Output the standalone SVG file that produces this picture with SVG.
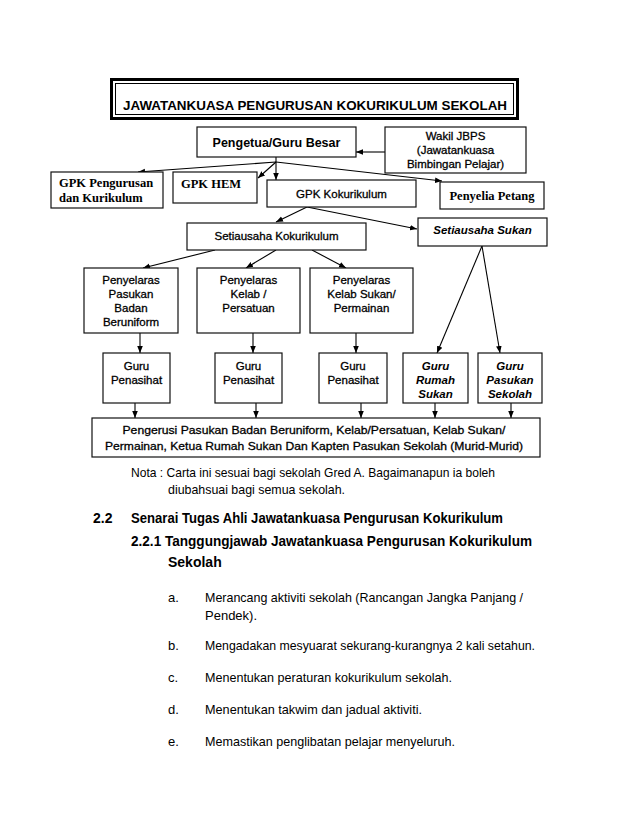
<svg xmlns="http://www.w3.org/2000/svg" width="638" height="826" viewBox="0 0 638 826">
<defs>
<marker id="ah" viewBox="0 0 10 10" refX="10" refY="5" markerWidth="7" markerHeight="7" markerUnits="userSpaceOnUse" orient="auto">
<path d="M0,1 L10,5 L0,9 z" fill="#000"/>
</marker>
<style>
.bx{fill:#fff;stroke:#111;stroke-width:1.2}
.s{font-family:"Liberation Sans",Arial,sans-serif;font-size:11.5px;fill:#000;stroke:#000;stroke-width:0.3;text-anchor:middle}
.sb{font-family:"Liberation Sans",Arial,sans-serif;font-size:12.5px;font-weight:bold;fill:#000;text-anchor:middle}
.si{font-family:"Liberation Sans",Arial,sans-serif;font-size:11.5px;font-weight:bold;font-style:italic;fill:#000;text-anchor:middle}
.sf{font-family:"Liberation Serif","Times New Roman",serif;font-size:12.5px;font-weight:bold;fill:#000}
.ln{fill:none;stroke:#000;stroke-width:1.1;marker-end:url(#ah)}
.lp{fill:none;stroke:#000;stroke-width:1.1}
.t{font-family:"Liberation Sans",Tahoma,sans-serif;font-size:13px;fill:#000}
.tb{font-family:"Liberation Sans",Tahoma,sans-serif;font-size:14px;font-weight:bold;fill:#000}
</style>
</defs>
<rect width="638" height="826" fill="#fff"/>

<g id="title">
<rect x="111.5" y="79.5" width="406" height="39" fill="#fff" stroke="#000" stroke-width="3"/>
<rect x="115.5" y="83.5" width="398" height="31" fill="none" stroke="#000" stroke-width="1"/>
<text x="315" y="110" class="sb" font-size="13" textLength="384" lengthAdjust="spacingAndGlyphs">JAWATANKUASA PENGURUSAN KOKURIKULUM SEKOLAH</text>
</g>

<g id="connectors">
<line class="ln" x1="385" y1="152" x2="356" y2="152"/>
<line class="lp" x1="276" y1="157" x2="276" y2="162"/>
<line class="ln" x1="276" y1="162" x2="138" y2="172"/>
<line class="ln" x1="276" y1="162" x2="258" y2="178"/>
<line class="ln" x1="276" y1="162" x2="276" y2="180"/>
<line class="ln" x1="276" y1="162" x2="442" y2="181"/>
<line class="ln" x1="307" y1="207" x2="276" y2="222"/>
<line class="ln" x1="307" y1="207" x2="417" y2="229"/>
<line class="ln" x1="215" y1="250" x2="143" y2="268"/>
<line class="ln" x1="276" y1="250" x2="246" y2="268"/>
<line class="ln" x1="312" y1="250" x2="346" y2="268"/>
<line class="ln" x1="140" y1="333" x2="140" y2="353"/>
<line class="ln" x1="253" y1="333" x2="253" y2="353"/>
<line class="ln" x1="356" y1="333" x2="356" y2="353"/>
<line class="ln" x1="482" y1="246" x2="437" y2="353"/>
<line class="ln" x1="482" y1="246" x2="500" y2="353"/>
<line class="ln" x1="135" y1="403" x2="135" y2="418"/>
<line class="ln" x1="256" y1="403" x2="256" y2="418"/>
<line class="ln" x1="361" y1="403" x2="361" y2="418"/>
<line class="ln" x1="435" y1="403" x2="435" y2="418"/>
<line class="ln" x1="511" y1="403" x2="511" y2="418"/>
</g>

<g id="pengetua">
<rect class="bx" x="197" y="127" width="159" height="30"/>
<text class="sb" x="276.5" y="147">Pengetua/Guru Besar</text>
</g>

<g id="wakil">
<rect class="bx" x="385" y="127" width="141" height="46"/>
<text class="s" x="455.5" y="140">Wakil JBPS</text>
<text class="s" x="455.5" y="154">(Jawatankuasa</text>
<text class="s" x="455.5" y="168">Bimbingan Pelajar)</text>
</g>

<g id="gpk-pengurusan">
<rect class="bx" x="51" y="172" width="112" height="36"/>
<text class="sf" x="59" y="187">GPK Pengurusan</text>
<text class="sf" x="59" y="202">dan Kurikulum</text>
</g>

<g id="gpk-hem">
<rect class="bx" x="173" y="172" width="84" height="31"/>
<text class="sf" x="181" y="188">GPK HEM</text>
</g>

<g id="gpk-kokurikulum">
<rect class="bx" x="267" y="180" width="149" height="27"/>
<text class="s" x="341.5" y="198">GPK Kokurikulum</text>
</g>

<g id="penyelia-petang">
<rect class="bx" x="440" y="182" width="104" height="27"/>
<text class="sf" x="492" y="200" text-anchor="middle">Penyelia Petang</text>
</g>

<g id="setiausaha-kokurikulum">
<rect class="bx" x="187" y="223" width="179" height="27"/>
<text class="s" x="276.5" y="240">Setiausaha Kokurikulum</text>
</g>

<g id="setiausaha-sukan">
<rect class="bx" x="418" y="218" width="129" height="28"/>
<text class="si" x="482.5" y="234">Setiausaha Sukan</text>
</g>

<g id="penyelaras-pasukan">
<rect class="bx" x="84" y="268" width="94" height="65"/>
<text class="s" x="131" y="284">Penyelaras</text>
<text class="s" x="131" y="298">Pasukan</text>
<text class="s" x="131" y="312">Badan</text>
<text class="s" x="131" y="326">Beruniform</text>
</g>

<g id="penyelaras-kelab">
<rect class="bx" x="197" y="268" width="103" height="65"/>
<text class="s" x="248.5" y="284">Penyelaras</text>
<text class="s" x="248.5" y="298">Kelab /</text>
<text class="s" x="248.5" y="312">Persatuan</text>
</g>

<g id="penyelaras-sukan">
<rect class="bx" x="310" y="268" width="103" height="65"/>
<text class="s" x="361.5" y="284">Penyelaras</text>
<text class="s" x="361.5" y="298">Kelab Sukan/</text>
<text class="s" x="361.5" y="312">Permainan</text>
</g>

<g id="guru-penasihat-1">
<rect class="bx" x="103" y="353" width="67" height="50"/>
<text class="s" x="136.5" y="370">Guru</text>
<text class="s" x="136.5" y="384">Penasihat</text>
</g>

<g id="guru-penasihat-2">
<rect class="bx" x="215" y="353" width="67" height="50"/>
<text class="s" x="248.5" y="370">Guru</text>
<text class="s" x="248.5" y="384">Penasihat</text>
</g>

<g id="guru-penasihat-3">
<rect class="bx" x="319" y="353" width="68" height="50"/>
<text class="s" x="353" y="370">Guru</text>
<text class="s" x="353" y="384">Penasihat</text>
</g>

<g id="guru-rumah-sukan">
<rect class="bx" x="403" y="353" width="65" height="50"/>
<text class="si" x="435.5" y="370">Guru</text>
<text class="si" x="435.5" y="384">Rumah</text>
<text class="si" x="435.5" y="398">Sukan</text>
</g>

<g id="guru-pasukan-sekolah">
<rect class="bx" x="478" y="353" width="64" height="50"/>
<text class="si" x="510" y="370">Guru</text>
<text class="si" x="510" y="384">Pasukan</text>
<text class="si" x="510" y="398">Sekolah</text>
</g>

<g id="pengerusi">
<rect class="bx" x="92" y="418" width="448" height="39"/>
<text class="s" x="314" y="434" textLength="383" lengthAdjust="spacingAndGlyphs">Pengerusi Pasukan Badan Beruniform, Kelab/Persatuan, Kelab Sukan/</text>
<text class="s" x="314" y="450" textLength="418" lengthAdjust="spacingAndGlyphs">Permainan, Ketua Rumah Sukan Dan Kapten Pasukan Sekolah (Murid-Murid)</text>
</g>

<g id="notes">
<text class="t" x="131" y="477" textLength="364" lengthAdjust="spacingAndGlyphs">Nota : Carta ini sesuai bagi sekolah Gred A. Bagaimanapun ia boleh</text>
<text class="t" x="168" y="494" textLength="177" lengthAdjust="spacingAndGlyphs">diubahsuai bagi semua sekolah.</text>
<text class="tb" x="93" y="523">2.2</text>
<text class="tb" x="131" y="523" textLength="372" lengthAdjust="spacingAndGlyphs">Senarai Tugas Ahli Jawatankuasa Pengurusan Kokurikulum</text>
<text class="tb" x="131" y="546" textLength="401" lengthAdjust="spacingAndGlyphs">2.2.1 Tanggungjawab Jawatankuasa Pengurusan Kokurikulum</text>
<text class="tb" x="168" y="567">Sekolah</text>
<text class="t" x="168" y="602">a.</text>
<text class="t" x="205" y="602" textLength="318" lengthAdjust="spacingAndGlyphs">Merancang aktiviti sekolah (Rancangan Jangka Panjang /</text>
<text class="t" x="205" y="620">Pendek).</text>
<text class="t" x="168" y="650">b.</text>
<text class="t" x="205" y="650" textLength="330" lengthAdjust="spacingAndGlyphs">Mengadakan mesyuarat sekurang-kurangnya 2 kali setahun.</text>
<text class="t" x="168" y="682">c.</text>
<text class="t" x="205" y="682" textLength="247" lengthAdjust="spacingAndGlyphs">Menentukan peraturan kokurikulum sekolah.</text>
<text class="t" x="168" y="714">d.</text>
<text class="t" x="205" y="714" textLength="217" lengthAdjust="spacingAndGlyphs">Menentukan takwim dan jadual aktiviti.</text>
<text class="t" x="168" y="746">e.</text>
<text class="t" x="205" y="746" textLength="250" lengthAdjust="spacingAndGlyphs">Memastikan penglibatan pelajar menyeluruh.</text>
</g>
</svg>
